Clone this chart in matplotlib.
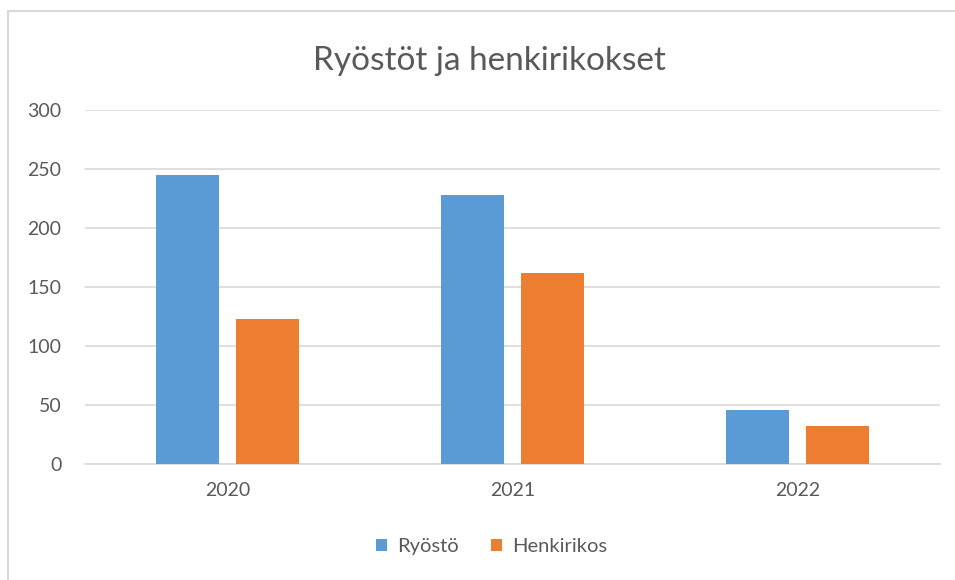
import numpy as np
import matplotlib
matplotlib.use("Agg")
import matplotlib.pyplot as plt
from matplotlib.patches import Rectangle

# Tiedot
vuodet = ["2020", "2021", "2022"]
ryosto = [245, 228, 46]
henkirikos = [123, 162, 32]

SININEN = "#5B9BD5"
ORANSSI = "#ED7D31"
HARMAA = "#595959"

plt.rcParams["font.family"] = ["Lato", "DejaVu Sans"]

fig = plt.figure(figsize=(9.55, 5.8), dpi=100)
ax = fig.add_axes([85 / 955, 0.2, 855 / 955, 0.61])

x = np.arange(len(vuodet))
leveys = 0.218
vali = 0.063
ax.bar(x - (leveys + vali) / 2, ryosto, leveys, color=SININEN, label="Ryöstö", zorder=3)
ax.bar(x + (leveys + vali) / 2, henkirikos, leveys, color=ORANSSI, label="Henkirikos", zorder=3)

ax.set_xlim(-0.5, 2.5)
ax.set_ylim(0, 300)
ax.set_yticks(range(0, 301, 50))
ax.set_xticks(x)
ax.set_xticklabels(vuodet)
ax.grid(axis="y", color="#D9D9D9", linewidth=1.2, zorder=0)
for s in ["top", "right", "left"]:
    ax.spines[s].set_visible(False)
ax.spines["bottom"].set_color("#D9D9D9")
ax.spines["bottom"].set_linewidth(1.2)
ax.tick_params(length=0, colors=HARMAA, labelsize=14, pad=13)
ax.tick_params(axis="y", pad=17)

fig.text(0.513, 0.895, "Ryöstöt ja henkirikokset", ha="center", va="center",
         fontsize=24, color=HARMAA)

fig.legend(loc="center", bbox_to_anchor=(0.515, 0.057), ncol=2, frameon=False,
           fontsize=14.5, handlelength=0.55, handleheight=0.55, handletextpad=0.5,
           columnspacing=1.6, labelcolor=HARMAA)

# kehys
fig.patches.append(Rectangle((8 / 955, -0.1), 1.0, 1.1 - 11 / 580, transform=fig.transFigure,
                             fill=False, edgecolor="#D9D9D9", linewidth=1.5))

fig.savefig("out.png", dpi=100)
